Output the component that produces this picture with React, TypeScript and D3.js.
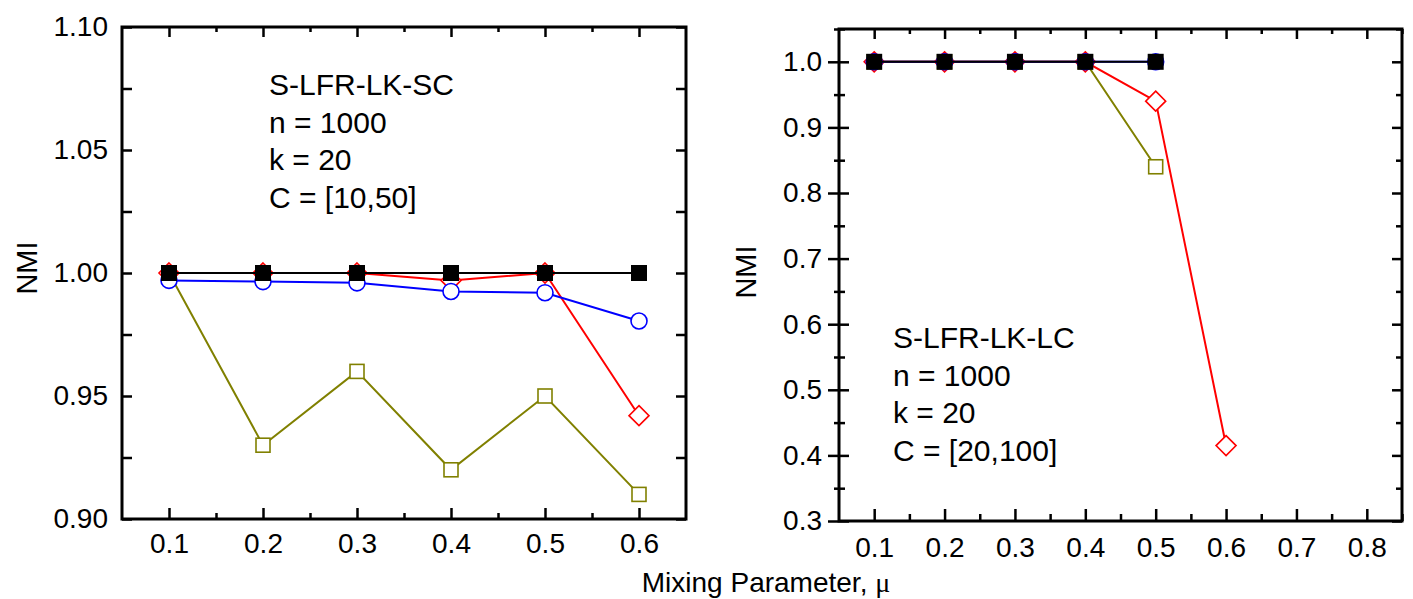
import React, { useEffect, useRef } from 'react'
import * as d3 from 'd3'

// left panel: S-LFR-LK-SC
const muLeft = [0.1, 0.2, 0.3, 0.4, 0.5, 0.6]
const blackLeft = [1.0, 1.0, 1.0, 1.0, 1.0, 1.0]
const redLeft = [1.0, 1.0, 1.0, 0.997, 1.0, 0.942]
const blueLeft = [0.997, 0.9965, 0.996, 0.9925, 0.992, 0.9805]
const oliveLeft = [1.0, 0.93, 0.96, 0.92, 0.95, 0.91]
const yTicksLeft = [0.9, 0.95, 1.0, 1.05, 1.1]
const annotLeft = ['S-LFR-LK-SC', 'n = 1000', 'k = 20', 'C = [10,50]']

// right panel: S-LFR-LK-LC
const muRight = [0.1, 0.2, 0.3, 0.4, 0.5, 0.6]
const blackRight = [1.0, 1.0, 1.0, 1.0, 1.0]
const redRight = [1.0, 1.0, 1.0, 1.0, 0.94, 0.415]
const blueRight = [1.0, 1.0, 1.0, 1.0, 1.0]
const oliveRight = [1.0, 1.0, 1.0, 1.0, 0.84]
const xTicksRight = [0.1, 0.2, 0.3, 0.4, 0.5, 0.6, 0.7, 0.8]
const yTicksRight = [0.3, 0.4, 0.5, 0.6, 0.7, 0.8, 0.9, 1.0]
const annotRight = ['S-LFR-LK-LC', 'n = 1000', 'k = 20', 'C = [20,100]']

const FONT = '"Liberation Sans", Arial, sans-serif'
const OLIVE = '#808000'

function drawSeries(g: any, x: any, y: any, xs: number[], ys: number[], color: string, shape: string) {
  const pts = ys.map((v, i) => [x(xs[i]), y(v)])
  g.append('path')
    .attr('d', d3.line()(pts as any))
    .attr('fill', 'none')
    .attr('stroke', color)
    .attr('stroke-width', 2)
  pts.forEach(p => {
    if (shape === 'circle') {
      g.append('circle').attr('cx', p[0]).attr('cy', p[1]).attr('r', 8)
        .attr('fill', 'white').attr('stroke', color).attr('stroke-width', 1.6)
    } else if (shape === 'diamond') {
      const s = 10
      g.append('path')
        .attr('d', `M${p[0]},${p[1] - s}L${p[0] + s},${p[1]}L${p[0]},${p[1] + s}L${p[0] - s},${p[1]}Z`)
        .attr('fill', 'white').attr('stroke', color).attr('stroke-width', 1.6)
    } else if (shape === 'filled') {
      g.append('rect').attr('x', p[0] - 8).attr('y', p[1] - 8).attr('width', 16).attr('height', 16)
        .attr('fill', color)
    } else {
      g.append('rect').attr('x', p[0] - 7).attr('y', p[1] - 7).attr('width', 14).attr('height', 14)
        .attr('fill', 'white').attr('stroke', color).attr('stroke-width', 1.6)
    }
  })
}

function styleAxis(a: any) {
  a.select('.domain').remove()
  a.selectAll('line').attr('stroke', 'black').attr('stroke-width', 2.5)
  a.selectAll('text').attr('font-family', FONT).attr('font-size', 28).attr('fill', 'black')
}

function minors(lo: number, hi: number, step: number, majors: number[]) {
  const out: number[] = []
  for (let v = lo; v <= hi + 1e-9; v += step) {
    const r = Math.round(v * 1000) / 1000
    if (!majors.some(m => Math.abs(m - r) < 1e-6)) out.push(r)
  }
  return out
}

function annotate(svg: any, lines: string[], x0: number, y0: number) {
  lines.forEach((t, i) => {
    svg.append('text').attr('x', x0).attr('y', y0 + i * 37.5)
      .attr('font-family', FONT).attr('font-size', 30).text(t)
  })
}

export default function App() {
  const ref = useRef<SVGSVGElement>(null)

  useEffect(() => {
    const svg = d3.select(ref.current)
    svg.selectAll('*').remove()

    // ---------- left panel ----------
    const xL = d3.scaleLinear().domain([0.05, 0.65]).range([122, 686])
    const yL = d3.scaleLinear().domain([0.9, 1.1]).range([519, 27])
    const xMinL = [0.15, 0.25, 0.35, 0.45, 0.55]
    const yMinL = minors(0.9, 1.1, 0.025, yTicksLeft)

    styleAxis(svg.append('g').attr('transform', 'translate(0,519)')
      .call(d3.axisBottom(xL).tickValues(muLeft).tickSize(-11).tickPadding(14).tickFormat(d3.format('.1f'))))
    styleAxis(svg.append('g').attr('transform', 'translate(0,519)')
      .call(d3.axisBottom(xL).tickValues(xMinL).tickSize(-6).tickFormat(() => '')))
    styleAxis(svg.append('g').attr('transform', 'translate(0,27)')
      .call(d3.axisTop(xL).tickValues(muLeft).tickSize(-10).tickFormat(() => '')))
    styleAxis(svg.append('g').attr('transform', 'translate(0,27)')
      .call(d3.axisTop(xL).tickValues(xMinL).tickSize(-5).tickFormat(() => '')))
    styleAxis(svg.append('g').attr('transform', 'translate(122,0)')
      .call(d3.axisLeft(yL).tickValues(yTicksLeft).tickSize(-10).tickPadding(14).tickFormat(d3.format('.2f'))))
    styleAxis(svg.append('g').attr('transform', 'translate(122,0)')
      .call(d3.axisLeft(yL).tickValues(yMinL).tickSize(-10).tickFormat(() => '')))
    styleAxis(svg.append('g').attr('transform', 'translate(686,0)')
      .call(d3.axisRight(yL).tickValues(yTicksLeft.concat(yMinL)).tickSize(-10).tickFormat(() => '')))
    svg.append('rect').attr('x', 122).attr('y', 27).attr('width', 564).attr('height', 492)
      .attr('fill', 'none').attr('stroke', 'black').attr('stroke-width', 3)

    const gL = svg.append('g')
    drawSeries(gL, xL, yL, muLeft, oliveLeft, OLIVE, 'square')
    drawSeries(gL, xL, yL, muLeft, redLeft, '#ff0000', 'diamond')
    drawSeries(gL, xL, yL, muLeft, blueLeft, '#0000ff', 'circle')
    drawSeries(gL, xL, yL, muLeft, blackLeft, 'black', 'filled')
    annotate(svg, annotLeft, 269, 95)

    svg.append('text').attr('transform', 'translate(37,268) rotate(-90)')
      .attr('text-anchor', 'middle').attr('font-family', FONT).attr('font-size', 29).text('NMI')

    // ---------- right panel ----------
    const xR = d3.scaleLinear().domain([0.05, 0.85]).range([839, 1402])
    const yR = d3.scaleLinear().domain([0.3, 1.05]).range([521, 29])
    const xMinR = minors(0.15, 0.85, 0.1, [])
    const yMinR = minors(0.35, 1.05, 0.1, [])

    styleAxis(svg.append('g').attr('transform', 'translate(0,521)')
      .call(d3.axisBottom(xR).tickValues(xTicksRight).tickSize(-12).tickPadding(16).tickFormat(d3.format('.1f'))))
    styleAxis(svg.append('g').attr('transform', 'translate(0,521)')
      .call(d3.axisBottom(xR).tickValues(xMinR).tickSize(-7).tickFormat(() => '')))
    styleAxis(svg.append('g').attr('transform', 'translate(0,29)')
      .call(d3.axisTop(xR).tickValues(xTicksRight).tickSize(-10).tickFormat(() => '')))
    styleAxis(svg.append('g').attr('transform', 'translate(0,29)')
      .call(d3.axisTop(xR).tickValues(xMinR).tickSize(-5).tickFormat(() => '')))
    styleAxis(svg.append('g').attr('transform', 'translate(839,0)')
      .call(d3.axisLeft(yR).tickValues(yTicksRight).tickSize(11).tickPadding(6).tickFormat(d3.format('.1f'))))
    styleAxis(svg.append('g').attr('transform', 'translate(839,0)')
      .call(d3.axisLeft(yR).tickValues(yTicksRight).tickSize(-10).tickFormat(() => '')))
    styleAxis(svg.append('g').attr('transform', 'translate(839,0)')
      .call(d3.axisLeft(yR).tickValues(yMinR).tickSize(5).tickFormat(() => '')))
    styleAxis(svg.append('g').attr('transform', 'translate(839,0)')
      .call(d3.axisLeft(yR).tickValues(yMinR).tickSize(-6).tickFormat(() => '')))
    styleAxis(svg.append('g').attr('transform', 'translate(1402,0)')
      .call(d3.axisRight(yR).tickValues(yTicksRight).tickSize(-10).tickFormat(() => '')))
    styleAxis(svg.append('g').attr('transform', 'translate(1402,0)')
      .call(d3.axisRight(yR).tickValues(yMinR).tickSize(-6).tickFormat(() => '')))
    svg.append('rect').attr('x', 839).attr('y', 29).attr('width', 563).attr('height', 492)
      .attr('fill', 'none').attr('stroke', 'black').attr('stroke-width', 3)

    const gR = svg.append('g')
    drawSeries(gR, xR, yR, muRight, oliveRight, OLIVE, 'square')
    drawSeries(gR, xR, yR, muRight, redRight, '#ff0000', 'diamond')
    drawSeries(gR, xR, yR, muRight, blueRight, '#0000ff', 'circle')
    drawSeries(gR, xR, yR, muRight, blackRight, 'black', 'filled')
    annotate(svg, annotRight, 893, 348)

    svg.append('text').attr('transform', 'translate(756,272) rotate(-90)')
      .attr('text-anchor', 'middle').attr('font-family', FONT).attr('font-size', 29).text('NMI')

    // shared x title
    const xt = svg.append('text').attr('x', 766).attr('y', 592)
      .attr('text-anchor', 'middle').attr('font-family', FONT).attr('font-size', 28)
    xt.append('tspan').text('Mixing Parameter, ')
    xt.append('tspan').attr('font-family', '"Liberation Serif", "Times New Roman", serif').text('\u03bc')
  }, [])

  return (
    <svg ref={ref} width={1413} height={599}
      style={{ position: 'absolute', left: 0, top: 0, background: 'white' }} />
  )
}
